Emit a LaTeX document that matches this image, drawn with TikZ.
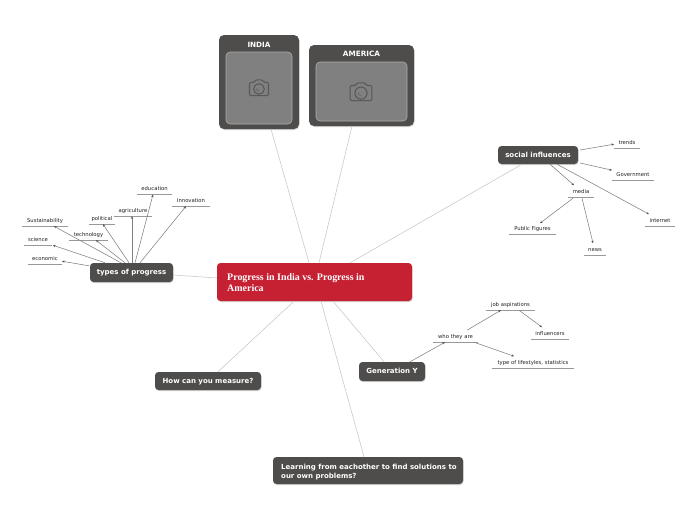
\documentclass[tikz,border=0pt]{standalone}
\usepackage{fontspec}
\setmainfont{DejaVu Sans}
\newfontfamily\rootfont{Liberation Serif}
\usetikzlibrary{shadows,arrows.meta}
\definecolor{dk}{HTML}{4E4D4C}
\definecolor{ph}{HTML}{808080}
\definecolor{cam}{HTML}{58585A}
\definecolor{rootred}{HTML}{C62033}
\tikzset{
  topic/.style={fill=dk,rounded corners=3.5pt,text=white,font=\fontsize{7}{9.2}\selectfont\bfseries,inner sep=0pt,text height=5pt,text depth=1pt,
    drop shadow={shadow xshift=0.5pt,shadow yshift=-1pt,opacity=.18,fill=black}},
  card/.style={fill=dk,rounded corners=5pt,inner sep=0pt,
    drop shadow={shadow xshift=0.5pt,shadow yshift=-1pt,opacity=.18,fill=black}},
  photo/.style={fill=ph,draw=white!35!ph,line width=.6pt,rounded corners=4pt,inner sep=0pt},
  leaf/.style={inner sep=0pt,minimum height=10pt,font=\fontsize{5.3}{6}\selectfont,text=black!88,text height=4pt,text depth=1pt},
  rule/.style={draw=black!40,line width=.8pt},
  main/.style={draw=black!22,line width=.55pt},
  sub/.style={draw=black!50,line width=.55pt,-{Stealth[length=2.6pt,width=2.2pt,color=black!70]}}
}
\newcommand{\leafbox}[5]{%
  \pgfmathsetmacro{\lw}{#3-#2}\pgfmathsetmacro{\lc}{(#2+#3)/2}\pgfmathsetmacro{\ly}{#4-5}%
  \node[leaf,minimum width=\lw pt] (#1) at (\lc,\ly) {#5};
  \draw[rule] (#1.south west) -- (#1.south east);}
\newcommand{\camera}[3]{%
  \begin{scope}[shift={(#1,#2)},scale=#3,draw=cam,line width=1.05pt,line join=round]
    \draw[rounded corners=1.2pt] (-10,-6) -- (-5,-6) -- (-3.5,-8.5) -- (3.5,-8.5) -- (5,-6) -- (10,-6) -- (10,8) -- (-10,8) -- cycle;
    \draw (0,1) circle (5.6);
    \draw[line width=.5pt] (-2.6,.6) arc (180:90:2.6);
  \end{scope}}
\begin{document}
\begin{tikzpicture}[x=1pt,y=-1pt]
\useasboundingbox (0,0) rectangle (697,520);
% main topics
\node[topic,fill=rootred,minimum width=195pt,minimum height=38pt] (root) at (314.5,282) {};
\node[anchor=west,text=white,align=left,font=\rootfont\fontsize{9.95}{11}\selectfont\bfseries,inner sep=0pt] (roottext) at (227,282.5) {Progress in India vs. Progress in\\America};
\node[card,minimum width=80pt,minimum height=94pt] (india) at (259,82) {};
\node[photo,minimum width=66pt,minimum height=72pt] (indiaph) at (259,88) {};
\node[text=white,font=\fontsize{7.2}{8}\selectfont\bfseries,inner sep=0pt] (indial) at (259,45) {INDIA};
\camera{259}{88}{.95}
\node[card,minimum width=105pt,minimum height=81pt] (america) at (361.5,85.5) {};
\node[photo,minimum width=91pt,minimum height=59pt] (americaph) at (361.5,91.5) {};
\node[text=white,font=\fontsize{7.3}{8}\selectfont\bfseries,inner sep=0pt] (americal) at (361.5,54) {AMERICA};
\camera{361}{92}{1.08}
\node[topic,minimum width=83pt,minimum height=19pt] (types) at (131.5,272.5) {types of progress};
\node[topic,minimum width=80pt,minimum height=18pt] (social) at (538,155) {social influences};
\node[topic,minimum width=106pt,minimum height=18pt] (measure) at (208,381) {How can you measure?};
\node[topic,minimum width=66pt,minimum height=19pt] (geny) at (392,371.5) {Generation Y};
\node[topic,minimum width=190pt,minimum height=27pt] (learn) at (368,470.5) {};
\node[anchor=west,text=white,align=left,font=\fontsize{7}{9.2}\selectfont\bfseries,inner sep=0pt] (learntext) at (281,471.7) {Learning from eachother to find solutions to\\our own problems?};
% main connectors
\draw[main] ([xshift=12pt]india.south) -- ([xshift=-5.5pt]root.north);
\draw[main] ([xshift=-9.5pt]america.south) -- ([xshift=4.5pt]root.north);
\draw[main] ([xshift=-16pt]social.south) -- ([xshift=35.5pt]root.north);
\draw[main] ([yshift=-2.5pt]types.east) -- ([yshift=4pt]root.west);
\draw[main] ([xshift=10pt]measure.north) -- ([xshift=-20.5pt]root.south);
\draw[main] ([xshift=-8pt]geny.north) -- ([xshift=18.5pt]root.south);
\draw[main] ([xshift=-4pt]learn.north) -- ([xshift=6.5pt]root.south);
% leaves
\leafbox{education}{137}{172}{194.3}{education}
\leafbox{innovation}{172}{210}{206}{Innovation}
\leafbox{agriculture}{114}{152}{216}{agriculture}
\leafbox{political}{89}{115}{224}{political}
\leafbox{technology}{69}{108}{240}{technology}
\leafbox{sustain}{22}{68}{226}{Sustainability}
\leafbox{science}{24}{52}{245}{science}
\leafbox{economic}{28}{62}{264}{economic}
\leafbox{trends}{614}{640}{148}{trends}
\leafbox{government}{612}{654}{180}{Government}
\leafbox{media}{568}{594}{197}{media}
\leafbox{internet}{645}{675}{226}{internet}
\leafbox{public}{509}{556}{234}{Public Figures}
\leafbox{news}{584}{606}{255}{news}
\leafbox{who}{433}{478}{342}{who they are}
\leafbox{job}{486}{535}{310}{job aspirations}
\leafbox{influencers}{531}{569}{339}{influencers}
\leafbox{lifestyle}{492}{574}{368}{type of lifestyles, statistics}
% sub connectors
\draw[sub] ([shift={(-42.5,3)}]types.north) -- ([shift={(17,-3)}]economic.south);
\draw[sub] ([xshift=-26.5pt]types.north) -- ([xshift=15pt]science.south);
\draw[sub] ([xshift=-10.5pt]types.north) -- ([xshift=9pt]sustain.south);
\draw[sub] ([xshift=-6.5pt]types.north) -- ([xshift=7.5pt]technology.south);
\draw[sub] ([xshift=-2.5pt]types.north) -- ([xshift=1pt]political.south);
\draw[sub] ([xshift=.5pt]types.north) -- ([xshift=-1pt]agriculture.south);
\draw[sub] ([xshift=3.5pt]types.north) -- ([xshift=-1.5pt]education.south);
\draw[sub] ([xshift=8.5pt]types.north) -- ([xshift=-5pt]innovation.south);
\draw[sub] ([shift={(2,-5)}]social.east) -- ([shift={(-13,-4)}]trends.south);
\draw[sub] ([shift={(2,8)}]social.east) -- ([shift={(-21,-10)}]government.south);
\draw[sub] ([xshift=12pt]social.south) -- ([shift={(-7,-12)}]media.south);
\draw[sub] ([xshift=19pt]social.south) -- ([shift={(-11,-12)}]internet.south);
\draw[sub] ([shift={(-8,1)}]media.south) -- ([shift={(7.5,-11)}]public.south);
\draw[sub] ([shift={(1,1)}]media.south) -- ([shift={(-2,-12)}]news.south);
\draw[sub] ([xshift=18pt]geny.north) -- ([xshift=-10.5pt]who.south);
\draw[sub] ([shift={(11.5,-12)}]who.south) -- ([xshift=-9.5pt]job.south);
\draw[sub] ([xshift=8.5pt]job.south) -- ([shift={(-8,-12)}]influencers.south);
\draw[sub] ([xshift=18.5pt]who.south) -- ([shift={(-19,-12)}]lifestyle.south);
\end{tikzpicture}
\end{document}
